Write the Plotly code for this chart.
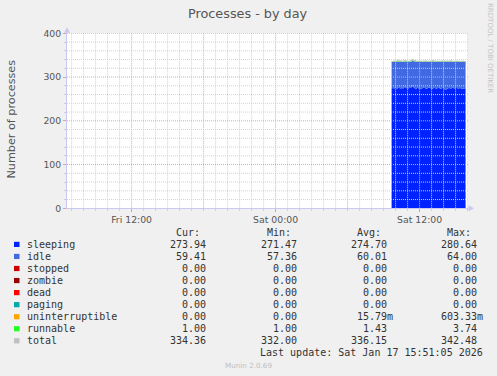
import pandas as pd
import plotly.graph_objects as go

W, H = 497, 376

# ---------------- data (5-minute samples) ----------------
sample_start = "2026-01-17 09:40"
n_samples = 75

sleeping = [
    274.2, 275.1, 273.8, 276.4, 274.9, 273.5, 275.8, 277.2, 274.6, 273.9, 275.3, 274.1, 276.0, 278.3, 275.5,
    274.2, 273.6, 275.0, 274.8, 276.7, 280.6, 277.1, 275.4, 274.3, 273.2, 274.9, 275.6, 274.0, 273.1, 272.8,
    274.5, 275.9, 276.3, 274.7, 273.4, 274.1, 275.2, 276.8, 275.0, 273.7, 272.6, 274.4, 275.7, 274.9, 273.3,
    274.6, 275.1, 276.2, 274.0, 273.5, 274.8, 275.3, 273.9, 272.4, 271.5, 273.0, 274.6, 275.4, 274.2, 273.8,
    275.0, 276.1, 274.5, 273.6, 274.9, 275.2, 273.7, 274.3, 275.8, 274.1, 273.4, 272.9, 274.6, 273.9, 273.9,
]
idle = [
    60.2, 59.5, 61.0, 58.9, 60.4, 61.3, 59.1, 58.2, 60.7, 61.5, 59.8, 60.6, 59.0, 57.4, 59.9,
    60.8, 61.6, 59.7, 60.3, 58.6, 57.9, 59.4, 60.9, 61.2, 62.0, 60.1, 59.6, 60.5, 61.8, 62.4,
    60.3, 59.2, 58.8, 60.6, 61.7, 60.4, 59.5, 58.3, 60.0, 61.4, 62.6, 60.9, 59.3, 60.2, 61.9,
    60.5, 59.8, 58.7, 60.9, 61.6, 60.1, 59.4, 61.0, 62.8, 64.0, 62.1, 60.3, 59.6, 60.8, 61.2,
    59.7, 58.5, 60.4, 61.3, 60.0, 59.6, 61.1, 60.7, 58.9, 60.2, 61.5, 62.2, 60.0, 60.6, 59.4,
]
stopped = [
    0, 0, 0, 0, 0, 0, 0, 0, 0, 0, 0, 0, 0, 0, 0,
    0, 0, 0, 0, 0, 0, 0, 0, 0, 0, 0, 0, 0, 0, 0,
    0, 0, 0, 0, 0, 0, 0, 0, 0, 0, 0, 0, 0, 0, 0,
    0, 0, 0, 0, 0, 0, 0, 0, 0, 0, 0, 0, 0, 0, 0,
    0, 0, 0, 0, 0, 0, 0, 0, 0, 0, 0, 0, 0, 0, 0,
]
zombie = [
    0, 0, 0, 0, 0, 0, 0, 0, 0, 0, 0, 0, 0, 0, 0,
    0, 0, 0, 0, 0, 0, 0, 0, 0, 0, 0, 0, 0, 0, 0,
    0, 0, 0, 0, 0, 0, 0, 0, 0, 0, 0, 0, 0, 0, 0,
    0, 0, 0, 0, 0, 0, 0, 0, 0, 0, 0, 0, 0, 0, 0,
    0, 0, 0, 0, 0, 0, 0, 0, 0, 0, 0, 0, 0, 0, 0,
]
dead = [
    0, 0, 0, 0, 0, 0, 0, 0, 0, 0, 0, 0, 0, 0, 0,
    0, 0, 0, 0, 0, 0, 0, 0, 0, 0, 0, 0, 0, 0, 0,
    0, 0, 0, 0, 0, 0, 0, 0, 0, 0, 0, 0, 0, 0, 0,
    0, 0, 0, 0, 0, 0, 0, 0, 0, 0, 0, 0, 0, 0, 0,
    0, 0, 0, 0, 0, 0, 0, 0, 0, 0, 0, 0, 0, 0, 0,
]
paging = [
    0, 0, 0, 0, 0, 0, 0, 0, 0, 0, 0, 0, 0, 0, 0,
    0, 0, 0, 0, 0, 0, 0, 0, 0, 0, 0, 0, 0, 0, 0,
    0, 0, 0, 0, 0, 0, 0, 0, 0, 0, 0, 0, 0, 0, 0,
    0, 0, 0, 0, 0, 0, 0, 0, 0, 0, 0, 0, 0, 0, 0,
    0, 0, 0, 0, 0, 0, 0, 0, 0, 0, 0, 0, 0, 0, 0,
]
uninterruptible = [
    0, 0, 0, 0, 0, 0, 0, 0, 0, 0, 0, 0, 0, 0, 0,
    0, 0, 0, 0, 0, 0.603, 0, 0, 0, 0, 0, 0, 0, 0, 0,
    0, 0, 0, 0, 0, 0, 0, 0, 0, 0, 0, 0, 0, 0, 0,
    0, 0, 0, 0, 0, 0, 0, 0.58, 0, 0, 0, 0, 0, 0, 0,
    0, 0, 0, 0, 0, 0, 0, 0, 0, 0, 0, 0, 0, 0, 0,
]
runnable = [
    1.0, 1.2, 2.1, 1.0, 1.5, 1.0, 3.7, 1.3, 1.0, 1.8, 1.0, 1.1, 2.4, 1.0, 1.6,
    1.0, 1.3, 1.0, 2.0, 1.0, 1.4, 1.0, 1.2, 2.7, 1.0, 1.1, 1.5, 1.0, 1.9, 1.0,
    1.2, 1.0, 1.6, 1.0, 2.2, 1.0, 1.3, 1.0, 1.1, 1.8, 1.0, 2.9, 1.0, 1.4, 1.0,
    1.0, 1.7, 1.0, 1.2, 1.0, 2.3, 1.0, 1.5, 1.0, 1.1, 1.0, 1.9, 1.0, 1.3, 3.1,
    1.0, 1.2, 1.0, 1.6, 1.0, 2.0, 1.0, 1.4, 1.0, 1.1, 1.7, 1.0, 1.3, 1.0, 1.0,
]

series_names = ["sleeping", "idle", "stopped", "zombie", "dead", "paging",
                "uninterruptible", "runnable"]
series_colors = ["#0022ff", "#4169e1", "#cc0000", "#990000", "#ff0000",
                 "#00aaaa", "#ffa500", "#22ff22"]
series_values = [sleeping, idle, stopped, zombie, dead, paging,
                 uninterruptible, runnable]
total_color = "#c0c0c0"

# legend table (as shown in the picture)
legend_names = series_names + ["total"]
legend_colors = series_colors + [total_color]
col_cur = ["273.94", "59.41", "0.00", "0.00", "0.00", "0.00", "0.00", "1.00", "334.36"]
col_min = ["271.47", "57.36", "0.00", "0.00", "0.00", "0.00", "0.00", "1.00", "332.00"]
col_avg = ["274.70", "60.01", "0.00", "0.00", "0.00", "0.00", "15.79m", "1.43", "336.15"]
col_max = ["280.64", "64.00", "0.00", "0.00", "0.00", "0.00", "603.33m", "3.74", "342.48"]
col_headers = ["Cur:", "Min:", "Avg:", "Max:"]

y_ticks = [0, 100, 200, 300, 400]
x_range = ["2026-01-16 06:37:00", "2026-01-17 16:02:00"]

# ---------------- figure ----------------
times = pd.date_range(sample_start, periods=n_samples, freq="5min")
total = [sum(v) for v in zip(*series_values)]


def fx(px):
    return px / W


def fy(py):
    return 1 - py / H


PL, PR, PT, PB = 67, 468, 33.3, 208.3

fig = go.Figure()
for name, color, vals in zip(series_names, series_colors, series_values):
    fig.add_trace(go.Scatter(
        x=times, y=vals, name=name, mode="lines", stackgroup="one",
        line=dict(width=0, shape="hv", color=color), fillcolor=color,
        hoverinfo="skip"))
fig.add_trace(go.Scatter(
    x=times, y=total, name="total", mode="lines",
    line=dict(width=1, shape="hv", color=total_color), hoverinfo="skip"))

shapes = []
# grid lines drawn above the data, as rrdtool does
t0 = pd.Timestamp(x_range[0]).ceil("h")
t1 = pd.Timestamp(x_range[1])
for t in pd.date_range(t0, t1, freq="h"):
    major = t.hour % 6 == 0
    shapes.append(dict(type="line", xref="x", yref="paper",
                       x0=t, x1=t, y0=fy(PB), y1=fy(PT), layer="above",
                       line=dict(color="#f0a0a0" if major else "#d2d2d2",
                                 width=1, dash="1px,1px")))
for v in range(20, 401, 20):
    major = v % 100 == 0
    shapes.append(dict(type="line", xref="paper", yref="y",
                       x0=fx(PL), x1=fx(PR), y0=v, y1=v, layer="above",
                       line=dict(color="#f0a0a0" if major else "#d2d2d2",
                                 width=1, dash="1px,1px")))
# axis arrows
ax_col = "#c8c8f0"
shapes.append(dict(type="path", xref="paper", yref="paper",
                   path=f"M {fx(PL-3)} {fy(PT-0.5)} L {fx(PL+3)} {fy(PT-0.5)} L {fx(PL)} {fy(PT-6)} Z",
                   fillcolor=ax_col, line=dict(width=0)))
shapes.append(dict(type="path", xref="paper", yref="paper",
                   path=f"M {fx(PR+0.5)} {fy(PB-3)} L {fx(PR+0.5)} {fy(PB+3)} L {fx(PR+6)} {fy(PB)} Z",
                   fillcolor=ax_col, line=dict(width=0)))

annotations = []
mono = dict(family="DejaVu Sans Mono", size=10, color="#333333")
row_y0, row_dy = 244.4, 12.05
col_right = [212, 302.7, 392.7, 483]
NB = "\u00a0"


def txt(s):
    return s if s.endswith("m") else s + NB


for i, (nm, colr) in enumerate(zip(legend_names, legend_colors)):
    yy = row_y0 + i * row_dy
    shapes.append(dict(type="rect", xref="paper", yref="paper",
                       x0=fx(14), x1=fx(19.5), y0=fy(yy + 2.6), y1=fy(yy - 2.6),
                       fillcolor=colr, line=dict(width=0)))
    annotations.append(dict(xref="paper", yref="paper", x=fx(26.5), y=fy(yy),
                            text=nm, showarrow=False, xanchor="left", yanchor="middle",
                            font=mono, borderpad=0, borderwidth=0))
    for cx, col in zip(col_right, [col_cur, col_min, col_avg, col_max]):
        annotations.append(dict(xref="paper", yref="paper", x=fx(cx), y=fy(yy),
                                text=txt(col[i]), showarrow=False, xanchor="right",
                                yanchor="middle", font=mono, borderpad=0, borderwidth=0))
for cx, hd in zip(col_right, col_headers):
    annotations.append(dict(xref="paper", yref="paper", x=fx(cx), y=fy(row_y0 - row_dy),
                            text=hd + NB + NB, showarrow=False, xanchor="right",
                            yanchor="middle", font=mono, borderpad=0, borderwidth=0))
annotations.append(dict(xref="paper", yref="paper", x=fx(483), y=fy(352.8),
                        text="Last update: Sat Jan 17 15:51:05 2026", showarrow=False,
                        xanchor="right", yanchor="middle", font=mono,
                        borderpad=0, borderwidth=0))
annotations.append(dict(xref="paper", yref="paper", x=fx(248.5), y=fy(365.8),
                        text="Munin 2.0.69", showarrow=False, xanchor="center",
                        yanchor="middle", borderpad=0, borderwidth=0,
                        font=dict(family="DejaVu Sans", size=7.2, color="#c0c0c0")))
annotations.append(dict(xref="paper", yref="paper", x=fx(247.7), y=fy(13.6),
                        text="Processes - by day", showarrow=False, xanchor="center",
                        yanchor="middle", borderpad=0, borderwidth=0,
                        font=dict(family="DejaVu Sans", size=12.8, color="#555555")))
annotations.append(dict(xref="paper", yref="paper", x=fx(11), y=fy(119.5),
                        text="Number of processes", showarrow=False, textangle=-90,
                        xanchor="center", yanchor="middle", borderpad=0, borderwidth=0,
                        font=dict(family="DejaVu Sans", size=11.2, color="#555555")))
annotations.append(dict(xref="paper", yref="paper", x=fx(490), y=fy(48),
                        text="RRDTOOL / TOBI OETIKER", showarrow=False, textangle=90,
                        xanchor="center", yanchor="middle", borderpad=0, borderwidth=0,
                        font=dict(family="DejaVu Sans", size=7.0, color="#c4c4c4")))

tickfont = dict(family="DejaVu Sans", size=9.3, color="#555555")
fig.update_layout(
    width=W, height=H, autosize=False,
    margin=dict(l=0, r=0, t=0, b=0),
    paper_bgcolor="#f0f0f0", plot_bgcolor="#ffffff",
    showlegend=False,
    xaxis=dict(domain=[fx(PL), fx(PR)], range=x_range, type="date",
               showgrid=False, zeroline=False, showline=True, linecolor=ax_col,
               linewidth=1, ticks="outside", ticklen=3, tickcolor="#e0a0a0",
               tick0="2026-01-16 00:00", dtick=12 * 3600 * 1000,
               tickformat="%a %H:%M", tickfont=tickfont, automargin=False,
               minor=dict(dtick=3600 * 1000, ticks="outside", ticklen=2,
                          tickcolor=ax_col, showgrid=False)),
    yaxis=dict(domain=[fy(PB), fy(PT)], range=[0, 400], tickvals=y_ticks,
               showgrid=False, zeroline=False, showline=True, linecolor=ax_col,
               linewidth=1, ticks="outside", ticklen=3, tickcolor="#e0a0a0",
               tickfont=tickfont, automargin=False,
               minor=dict(dtick=20, ticks="outside", ticklen=2,
                          tickcolor=ax_col, showgrid=False)),
    shapes=shapes,
    annotations=annotations,
)

fig.write_html("out.html")
